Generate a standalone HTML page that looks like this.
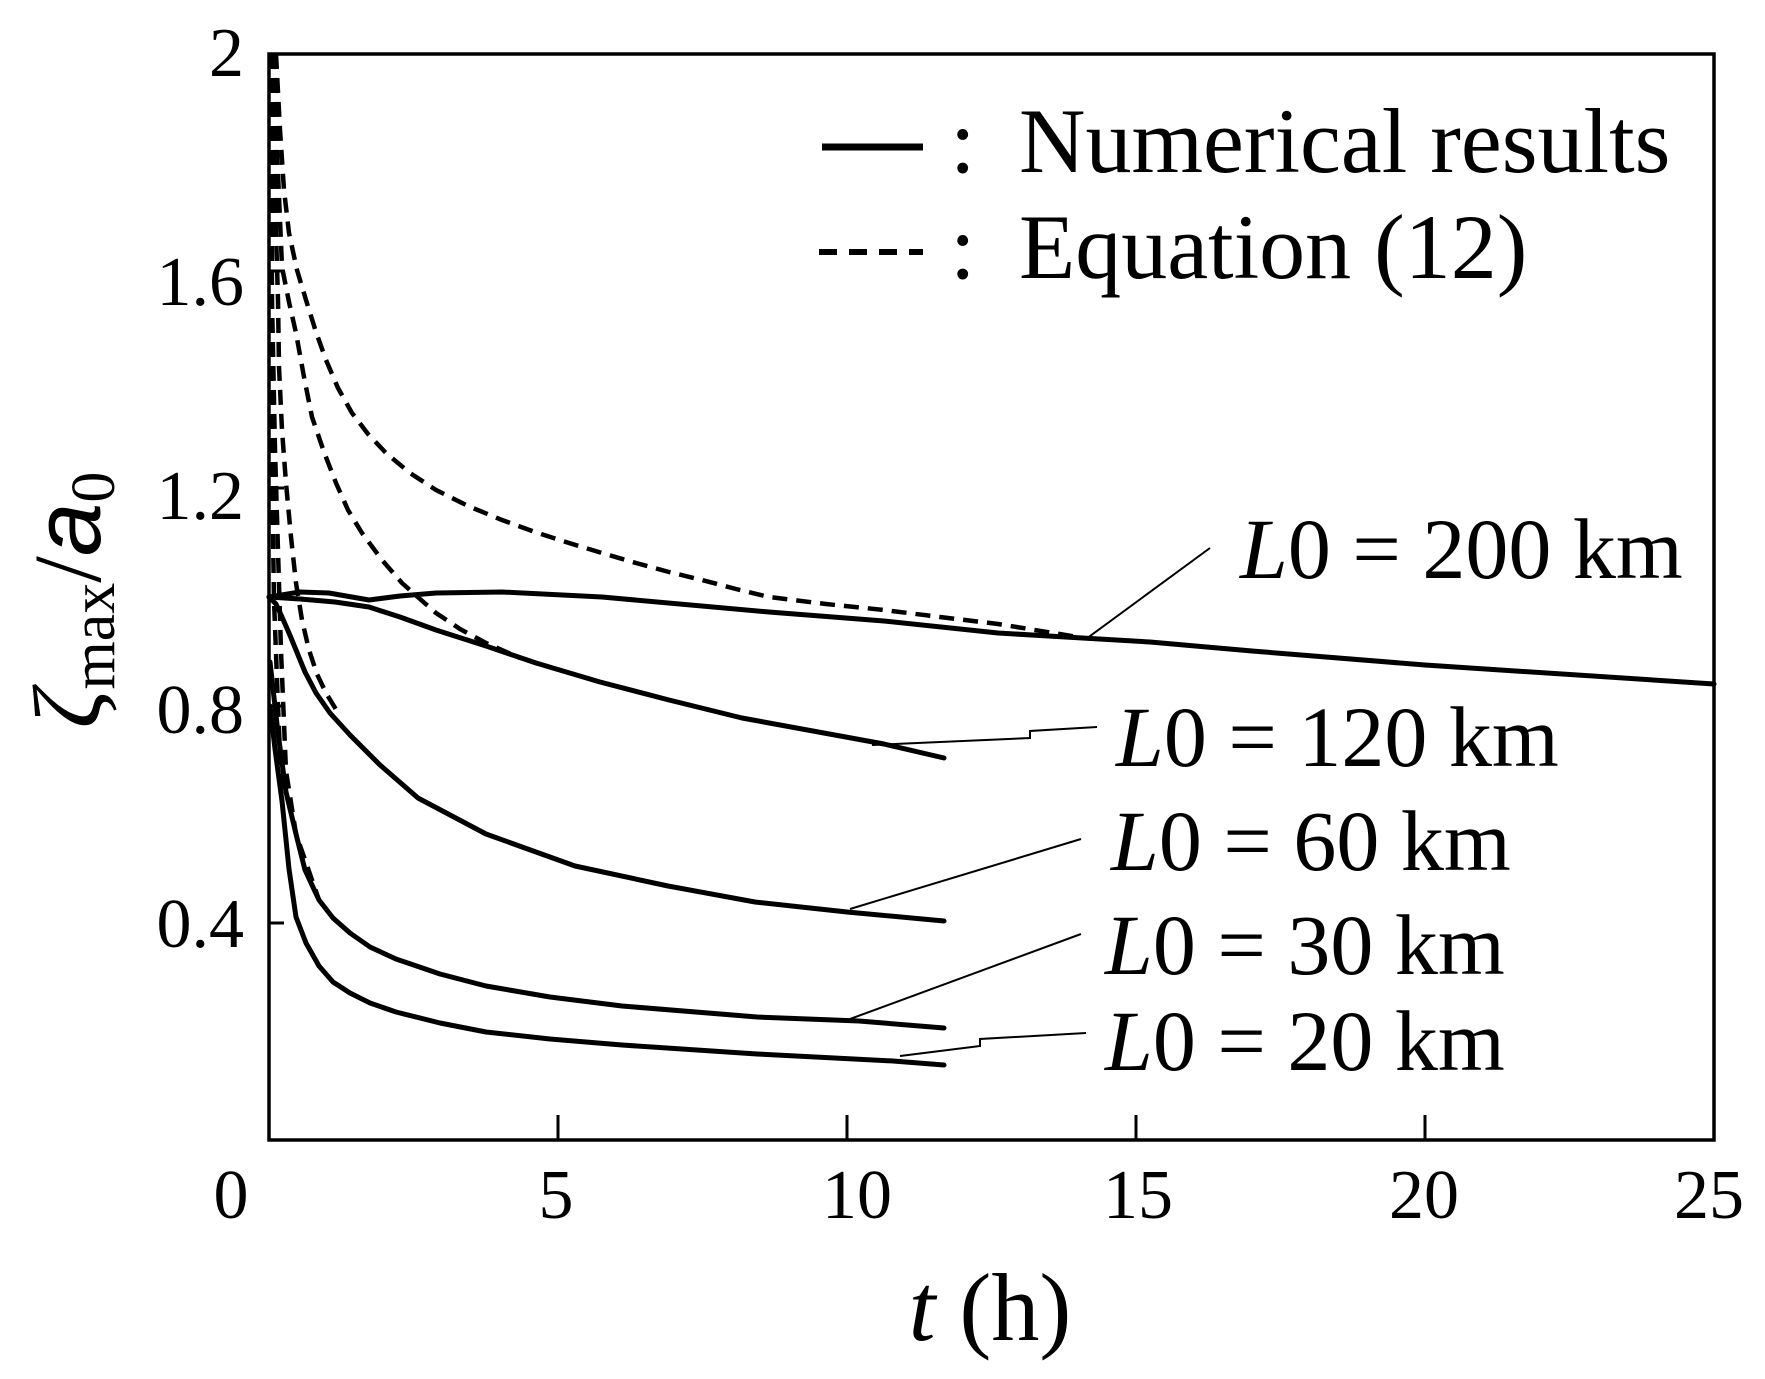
<!DOCTYPE html>
<html><head><meta charset="utf-8"><style>
html,body{margin:0;padding:0;background:#fff;}
svg{display:block;}
text{font-family:"Liberation Serif",serif;fill:#000;}
</style></head><body>
<svg width="1765" height="1379" viewBox="0 0 1765 1379" xmlns="http://www.w3.org/2000/svg">
<rect width="1765" height="1379" fill="#fff"/>
<rect x="269" y="54" width="1445" height="1086" fill="none" stroke="#000" stroke-width="3.5"/>
<g stroke="#000" stroke-width="3">
<line x1="558" y1="1140" x2="558" y2="1115"/>
<line x1="847" y1="1140" x2="847" y2="1115"/>
<line x1="1136" y1="1140" x2="1136" y2="1115"/>
<line x1="1425" y1="1140" x2="1425" y2="1115"/>
<line x1="269" y1="271" x2="284" y2="271"/>
<line x1="269" y1="488" x2="284" y2="488"/>
<line x1="269" y1="706" x2="284" y2="706"/>
<line x1="269" y1="923" x2="284" y2="923"/>
</g>
<g font-size="70" text-anchor="end">
<text x="244" y="76">2</text>
<text x="244" y="305">1.6</text>
<text x="244" y="519">1.2</text>
<text x="244" y="733">0.8</text>
<text x="244" y="947">0.4</text>
</g>
<g font-size="70" text-anchor="middle">
<text x="231" y="1218">0</text>
<text x="556" y="1218">5</text>
<text x="857" y="1218">10</text>
<text x="1138" y="1218">15</text>
<text x="1424" y="1218">20</text>
<text x="1709" y="1218">25</text>
</g>
<text x="990" y="1340" font-size="96" text-anchor="middle"><tspan font-style="italic">t</tspan> (h)</text>
<g transform="translate(100,600) rotate(-90)">
<text x="0" y="0" font-size="96" text-anchor="middle"><tspan font-style="italic">ζ</tspan><tspan font-size="62" dy="14">max</tspan><tspan dy="-14">/</tspan><tspan font-family="Liberation Sans,sans-serif" font-style="italic">a</tspan><tspan font-size="62" dy="14">0</tspan></text>
</g>
<g fill="none" stroke="#000" stroke-width="5" stroke-linejoin="round" stroke-linecap="round">
<polyline points="269,597 300,592 329,593 369,600 400,596 436,593 502,592 602,597 769,612 884,621 998,633 1150,642 1252,651 1425,665 1714,684"/>
<polyline points="269,597 300,599 335,602 369,607 400,617 436,630 486,646 536,663 600,682 669,700 742,718 884,744 944,758"/>
<polyline points="269,597 276,604 282,617 289,633 296,650 305,672 316,693 330,713 350,735 380,765 418,798 486,834 575,866 668,886 755,902 847,912 944,921"/>
<polyline points="270,662 278,733 286,792 296,834 305,870 319,900 333,918 350,933 370,947 396,959 440,974 486,986 550,997 622,1006 757,1017 859,1021 944,1028"/>
<polyline points="270,706 275,749 282,801 289,869 296,917 306,943 319,966 333,982 350,993 370,1003 396,1012 440,1023 486,1032 550,1039 622,1045 757,1054 893,1061 944,1065"/>
</g>
<g fill="none" stroke="#000" stroke-width="4.5" stroke-dasharray="15,9" stroke-linejoin="round">
<polyline points="276,54 280,130 284,190 289,233 297,270 306,300 316,332 326,360 338,388 352,413 368,434 386,453 410,473 436,490 468,506 502,520 535,532 569,543 602,553 636,563 669,572 702,580 736,589 769,597 826,604 884,610 940,617 998,624 1078,637"/>
<polyline points="274,54 277,150 280,220 282,267 289,302 296,333 304,377 312,417 324,452 336,483 348,510 362,533 382,560 402,583 420,599 436,613 460,629 486,643 520,658"/>
<polyline points="272,54 274,150 276,233 278,300 279,367 282,430 286,483 291,537 296,583 302,620 309,650 317,674 326,693 340,716"/>
<polyline points="271,54 272,300 275,450 281,651 286,771 296,834 319,900"/>
<polyline points="270,54 271,400 274,600 278,706 282,801"/>
</g>
<g stroke="#000" stroke-width="2" fill="none">
<line x1="1086" y1="639" x2="1210" y2="548"/>
<polyline points="872,745 1030,738 1030,731 1097,727"/>
<line x1="850" y1="909" x2="1081" y2="839"/>
<line x1="850" y1="1019" x2="1081" y2="934"/>
<polyline points="900,1056 980,1046 980,1039 1086,1033"/>
</g>
<g font-size="86">
<text x="1240" y="578"><tspan font-style="italic">L</tspan>0 = 200 km</text>
<text x="1116" y="766"><tspan font-style="italic">L</tspan>0 = 120 km</text>
<text x="1111" y="870"><tspan font-style="italic">L</tspan>0 = 60 km</text>
<text x="1105" y="974"><tspan font-style="italic">L</tspan>0 = 30 km</text>
<text x="1105" y="1070"><tspan font-style="italic">L</tspan>0 = 20 km</text>
</g>
<line x1="822" y1="147" x2="923" y2="147" stroke="#000" stroke-width="7"/>
<line x1="819" y1="252" x2="923" y2="252" stroke="#000" stroke-width="6" stroke-dasharray="18,12"/>
<g font-size="92">
<text x="950" y="172">:</text>
<text x="1019" y="172">Numerical results</text>
<text x="950" y="278">:</text>
<text x="1019" y="278">Equation (12)</text>
</g>
</svg>
</body></html>
